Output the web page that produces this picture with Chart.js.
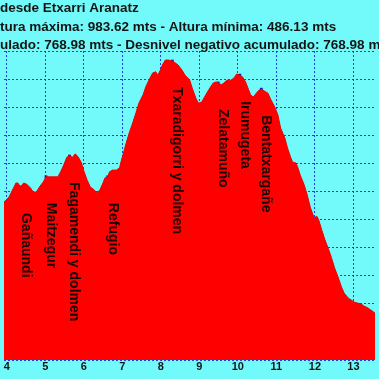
<!DOCTYPE html>
<html><head><meta charset="utf-8">
<script src="https://cdn.jsdelivr.net/npm/chart.js@4"></script>
<style>html,body{margin:0;padding:0;background:#72FAFA;overflow:hidden}#c{display:block}</style>
</head><body>
<canvas id="c" width="379" height="379"></canvas>
<script>
// Profile: distance (km) and elevation (m)
const distKm = [3.85,3.93,4.06,4.19,4.24,4.29,4.36,4.44,4.52,4.62,4.69,4.77,4.85,4.95,5.02,5.12,5.20,5.33,5.40,5.48,5.56,5.63,5.71,5.78,5.86,5.94,6.01,6.09,6.17,6.27,6.34,6.42,6.50,6.55,6.62,6.67,6.75,6.85,6.93,6.98,7.03,7.10,7.18,7.28,7.36,7.43,7.54,7.61,7.69,7.79,7.87,7.92,7.99,8.04,8.12,8.20,8.30,8.37,8.45,8.55,8.63,8.70,8.75,8.83,8.91,8.98,9.06,9.135,9.21,9.29,9.36,9.44,9.49,9.57,9.64,9.72,9.82,9.90,9.97,10.05,10.12,10.20,10.28,10.33,10.40,10.48,10.56,10.61,10.68,10.78,10.86,10.96,11.04,11.11,11.22,11.29,11.37,11.42,11.50,11.55,11.62,11.72,11.80,11.88,11.98,12.05,12.10,12.18,12.26,12.36,12.43,12.51,12.61,12.69,12.76,12.87,12.94,13.02,13.12,13.20,13.27,13.37,13.45,13.55,13.65];
const elevM = [722,731,740,758,765,765,758,765,763,756,749,749,758,767,776,776,776,776,785,797,811,813,811,817,811,801,785,770,758,753,747,753,765,774,776,785,788,788,792,806,818,836,854,874,891,907,922,936,948,961,963,957,966,975,984,984,982,979,975,966,957,952,948,931,916,907,909,918,927,936,943,945,943,940,943,948,948,952,959,957,954,945,931,922,918,925,931,932,929,925,913,900,886,863,845,827,811,802,801,794,779,762,744,722,703,706,699,681,664,646,632,614,596,580,569,560,557,553,551,550,546,543,539,534,530];

// Waypoints
const wpNames = ['Gañaundi','Maitzegur','Fagamendi y dolmen','Refugio','Txaradigorri y dolmen','Zelatamuño','Irumugeta','Bentatxargañe'];
const wpKm    = [4.36,5.02,5.63,6.62,8.30,9.49,10.05,10.61];
const wpElev  = [758,776,813,776,982,943,957,932];

// Axis ticks
const xTicks = [4,5,6,7,8,9,10,11,12,13];
const yMin = 450, yMax = 1000, yStep = 50;
const xMin = 3.93, xMax = 13.56;

// Title lines (hidden prefix is cut off at the left edge)
const titleHidden = ['', 'Al', 'Desnivel positivo acum'];
const titleText = ['desde Etxarri Aranatz',
  'Altura máxima: 983.62 mts - Altura mínima: 486.13 mts',
  'Desnivel positivo acumulado: 768.98 mts - Desnivel negativo acumulado: 768.98 mts'];

const FONT = '"Liberation Sans", Arial, sans-serif';
const GRID = 'rgba(10,30,235,0.85)';

const bgPlugin = {
  id: 'bg',
  beforeDraw(chart) {
    const ctx = chart.ctx;
    ctx.save();
    ctx.fillStyle = '#72FAFA';
    ctx.fillRect(0, 0, chart.width, chart.height);
    ctx.restore();
  }
};

const textPlugin = {
  id: 'texts',
  afterDraw(chart) {
    const ctx = chart.ctx;
    ctx.save();
    ctx.font = 'bold 13.5px ' + FONT;
    ctx.fillStyle = '#151515';
    ctx.textAlign = 'left';
    ctx.textBaseline = 'alphabetic';
    titleText.forEach((t, i) => {
      const off = ctx.measureText(titleHidden[i]).width;
      ctx.fillText(t, -off, 12 + i * 18.7);
    });
    // waypoint labels, vertical
    const xs = chart.scales.x, ys = chart.scales.y;
    ctx.font = 'bold 14px ' + FONT;
    ctx.fillStyle = '#1a0505';
    wpNames.forEach((n, i) => {
      const px = xs.getPixelForValue(wpKm[i]);
      const py = ys.getPixelForValue(wpElev[i]);
      ctx.save();
      ctx.translate(px + 1, py + 26);
      ctx.rotate(Math.PI / 2);
      ctx.textAlign = 'left';
      ctx.textBaseline = 'alphabetic';
      ctx.fillText(n, 0, 0);
      ctx.restore();
    });
    ctx.restore();
  }
};

new Chart(document.getElementById('c'), {
  type: 'line',
  data: {
    datasets: [
      {
        data: distKm.map((d, i) => ({x: d, y: elevM[i]})),
        borderColor: '#ee0000',
        borderWidth: 1,
        backgroundColor: '#ff0000',
        fill: 'start',
        pointRadius: 0,
        tension: 0
      },
      {
        data: wpKm.map((d, i) => ({x: d, y: wpElev[i]})),
        showLine: false,
        pointStyle: 'rect',
        pointRadius: 2,
        pointBackgroundColor: '#1515c8',
        pointBorderWidth: 0
      }
    ]
  },
  options: {
    responsive: false,
    animation: false,
    devicePixelRatio: 1,
    layout: {padding: {top: 51, left: 0, right: 0, bottom: 0}},
    plugins: {legend: {display: false}, title: {display: false}, tooltip: {enabled: false}},
    scales: {
      x: {
        type: 'linear',
        min: xMin, max: xMax,
        z: 1,
        afterBuildTicks(s) { s.ticks = xTicks.map(v => ({value: v})); },
        afterFit(s) { s.height = 19; s.paddingLeft = 0; s.paddingRight = 0; },
        ticks: {
          autoSkip: false, maxRotation: 0, padding: 0,
          color: '#151515',
          font: {family: FONT, size: 11, weight: 'bold'}
        },
        grid: {color: GRID, drawTicks: false, lineWidth: 1},
        border: {display: false, dash: [2, 2]}
      },
      y: {
        min: yMin, max: yMax,
        z: 1,
        afterFit(s) { s.width = 0; },
        ticks: {display: false, stepSize: yStep},
        grid: {color: GRID, drawTicks: false, lineWidth: 1},
        border: {display: false, dash: [2, 2]}
      }
    }
  },
  plugins: [bgPlugin, textPlugin]
});
</script>
</body></html>
